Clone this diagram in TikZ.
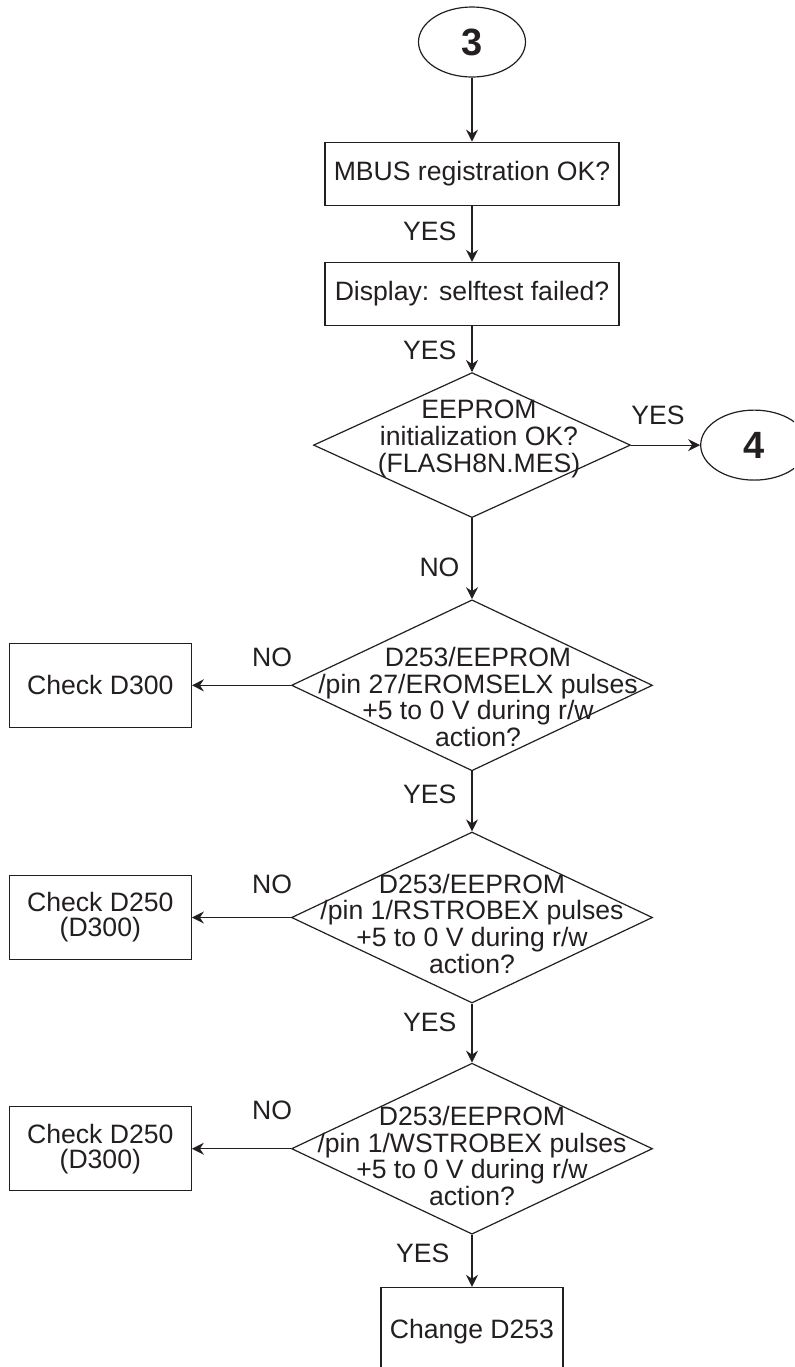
\documentclass[tikz,border=0pt]{standalone}
\usepackage{fontspec}
\setmainfont{Liberation Sans}
\usepackage{xcolor}
\usepackage{tikz}
\definecolor{inkgray}{RGB}{35,31,32}
\usetikzlibrary{shapes.geometric, arrows.meta, positioning}
% text of a decision, set over the diamond: #1 x offset, #2 y offset
\newcommand{\decisiontext}[3]{\smash{\makebox[0pt]{\hspace*{#1}\hspace*{#1}\raisebox{#2}{\begin{tabular}{@{}c@{}}#3\end{tabular}}}}}

\begin{document}
\begin{tikzpicture}[
    color=inkgray, line width=0.6pt,
    every node/.style={font=\fontsize{13.3}{12.4}\selectfont},
    terminal/.style={ellipse, draw, minimum width=53.5pt, minimum height=35pt,
                     inner sep=0pt, font=\fontsize{19}{19}\selectfont\bfseries},
    query/.style={rectangle, draw, minimum width=147pt, minimum height=31.5pt, align=center},
    action/.style={rectangle, draw, minimum width=91pt, minimum height=42pt, align=center},
    decision/.style={diamond, draw, inner sep=0pt, minimum width=180.5pt, minimum height=85.5pt},
    answer/.style={inner sep=0pt},
    flow/.style={-{Stealth[length=6pt, width=6pt, inset=2pt]}}
]
    \useasboundingbox (0,0) rectangle (397pt,-683.5pt);
    \clip (0,0) rectangle (397pt,-683.5pt);

    \node[terminal] (t3) at (236pt,-21pt) {3};
    \node[query, below=32pt of t3] (mbus) {MBUS registration OK?};
    \node[query, below=28pt of mbus] (selftest) {Display: selftest failed?};
    \node[decision, minimum width=158.5pt, minimum height=72.5pt, below=23pt of selftest] (init) {\decisiontext{3.5pt}{-1pt}{EEPROM\\initialization OK?\\(FLASH8N.MES)}};
    \node[terminal, right=34.5pt of init] (t4) {4};
    \node[decision, below=40.5pt of init] (eromsel) {\decisiontext{3pt}{-11.25pt}{D253/EEPROM\\/pin 27/EROMSELX pulses\\+5 to 0 V during r/w\\action?}};
    \node[decision, below=30pt of eromsel] (rstrobe) {\decisiontext{0pt}{-8.5pt}{D253/EEPROM\\/pin 1/RSTROBEX pulses\\+5 to 0 V during r/w\\action?}};
    \node[decision, below=29.5pt of rstrobe] (wstrobe) {\decisiontext{0pt}{-9pt}{D253/EEPROM\\/pin 1/WSTROBEX pulses\\+5 to 0 V during r/w\\action?}};
    \node[action, minimum height=44pt, below=26pt of wstrobe] (chg) {Change D253};
    \node[action, left=49.5pt of eromsel] (chk300) {Check D300};
    \node[action, left=49.5pt of rstrobe] (chk250a) {Check D250\\(D300)};
    \node[action, left=49.5pt of wstrobe] (chk250b) {Check D250\\(D300)};

    \draw[flow] (t3) -- (mbus);
    \draw[flow] (mbus) -- node[answer, left=7.5pt, pos=0.45] {YES} (selftest);
    \draw[flow] (selftest) -- node[answer, left=7.5pt, pos=0.53] {YES} (init);
    \draw[flow] (init) -- node[answer, above=10pt, pos=0.39] {YES} (t4);
    \draw[flow] (init) -- node[answer, left=6pt, pos=0.61] {NO} (eromsel);
    \draw[flow] (eromsel) -- node[answer, above=9pt, pos=0.19] {NO} (chk300);
    \draw[flow] (eromsel) -- node[answer, left=7.5pt, pos=0.39] {YES} (rstrobe);
    \draw[flow] (rstrobe) -- node[answer, above=11.5pt, pos=0.19] {NO} (chk250a);
    \draw[flow] (rstrobe) -- node[answer, left=7.5pt, pos=0.32] {YES} (wstrobe);
    \draw[flow] (wstrobe) -- node[answer, above=14pt, pos=0.19] {NO} (chk250b);
    \draw[flow] (wstrobe) -- node[answer, left=11pt, pos=0.36] {YES} (chg);
\end{tikzpicture}
\end{document}
